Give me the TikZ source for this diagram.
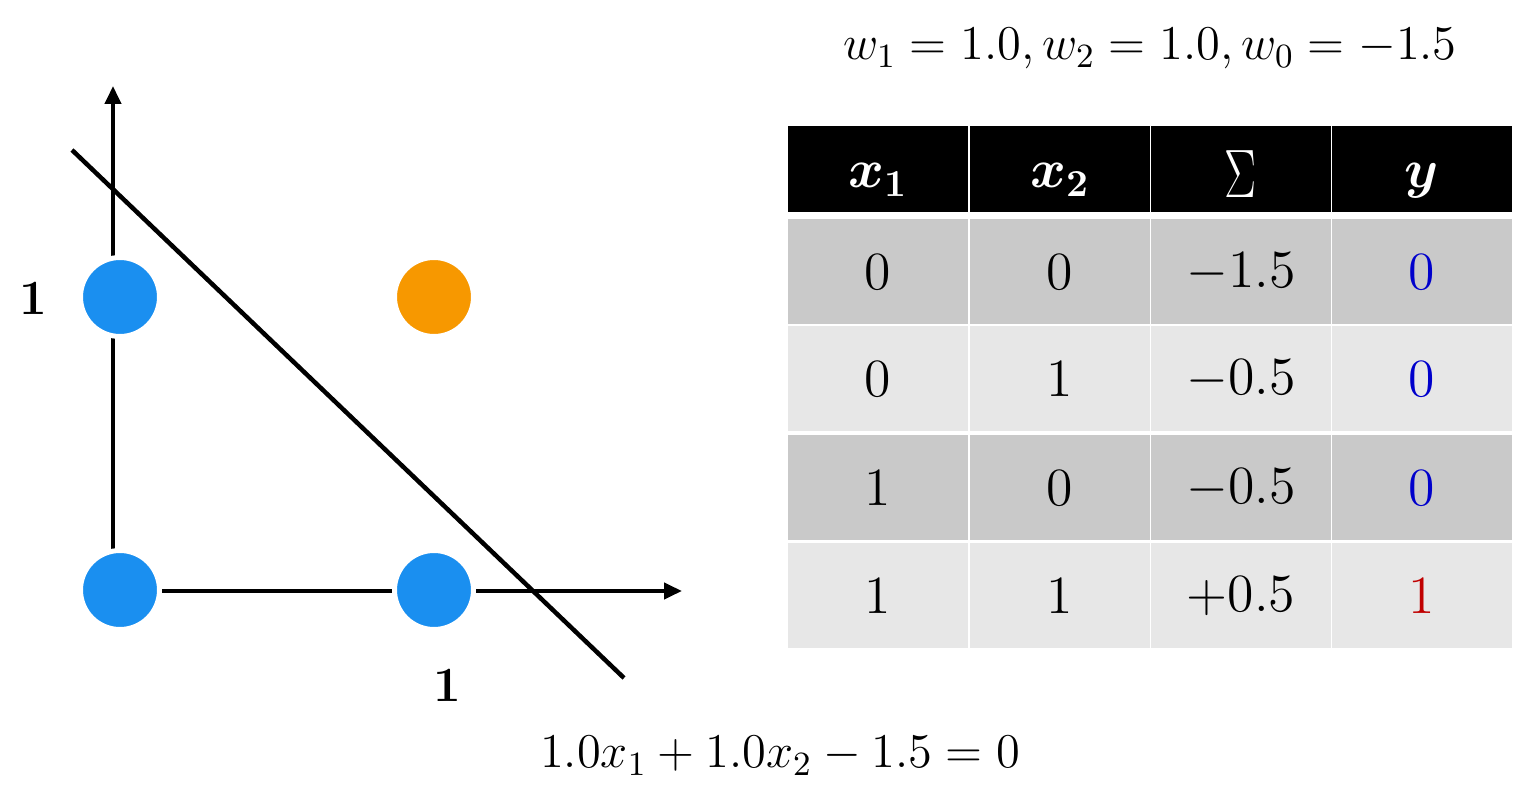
\RequirePackage{fix-cm}
\documentclass[tikz,border=0pt]{standalone}
\usepackage{amsmath}
\usepackage{bm}
\usepackage{tikz}
\usetikzlibrary{arrows.meta,positioning}

\definecolor{ptblue}{RGB}{26,143,240}
\definecolor{ptorange}{RGB}{247,152,0}
\definecolor{rowdark}{RGB}{201,201,201}
\definecolor{rowlight}{RGB}{231,231,231}
\definecolor{valblue}{RGB}{0,0,204}
\definecolor{valred}{RGB}{192,0,0}

\begin{document}
\begin{tikzpicture}[
  x=0.1mm, y=-0.1mm,
  axis/.style={line width=0.4mm, -{Triangle[length=1.8mm,width=1.6mm]}},
  pt/.style={circle, fill=#1, draw=white, line width=0.5mm, minimum size=7.9mm, inner sep=0pt},
  hcell/.style={fill=black, text=white, minimum width=18mm, minimum height=8.6mm, inner sep=0pt,
    text height=3.8mm, text depth=0mm, font=\fontsize{15.5}{18}\selectfont},
  cell/.style={fill=#1, minimum width=18mm, minimum height=10.5mm, inner sep=0pt, font=\fontsize{15.3}{18}\selectfont},
  lbl/.style={font=\fontsize{14}{16}\selectfont\bfseries},
  eq/.style={font=\fontsize{13.8}{16}\selectfont}
]
\useasboundingbox (0,0) rectangle (1528,794);

% axes
\coordinate (origin) at (113,591);
\coordinate (ytip) at (113,86);
\coordinate (xtip) at (682,591);
\draw[axis] (origin) -- (ytip);
\draw[axis] (origin) -- (xtip);

% inputs
\node[pt=ptblue] (p00) at (120,590) {};
\node[pt=ptblue] (p10) at (434,590) {};
\node[pt=ptblue] (p01) at (120,297) {};
\node[pt=ptorange] (p11) at (434,297) {};
\node[lbl] (one-y) at (33,298) {1};
\node[lbl] (one-x) at (447,685) {1};

% decision line
\coordinate (dtop) at (72,150);
\coordinate (dbot) at (624,678);
\draw[line width=0.45mm] (dtop) -- (dbot);
\node[eq] (boundary) at (780,756) {$1.0x_1+1.0x_2-1.5=0$};

% weights and truth table
\node[eq] (weights) at (1150,49) {$w_1=1.0, w_2=1.0, w_0=-1.5$};
\node[hcell] (h1) at (878,169) {$\bm{x_1}$};
\node[hcell] (h2) at (1060,169) {$\bm{x_2}$};
\node[hcell, text height=5.8mm, font=\fontsize{19.5}{22}\selectfont] (h3) at (1241,169) {\scalebox{0.7}[1]{$\Sigma$}};
\node[hcell] (h4) at (1422,169) {$\bm{y}$};
\foreach \a/\b/\s/\o/\oc/\f/\yy [count=\r] in {
  0/0/-1.5/0/valblue/rowdark/272,
  0/1/-0.5/0/valblue/rowlight/379,
  1/0/-0.5/0/valblue/rowdark/488,
  1/1/+0.5/1/valred/rowlight/596}{
  \node[cell=\f] (c\r-1) at (878,\yy) {$\a$};
  \node[cell=\f] (c\r-2) at (1060,\yy) {$\b$};
  \node[cell=\f] (c\r-3) at (1241,\yy) {$\s$};
  \node[cell=\f, text=\oc] (c\r-4) at (1422,\yy) {$\o$};
}
\end{tikzpicture}
\end{document}
